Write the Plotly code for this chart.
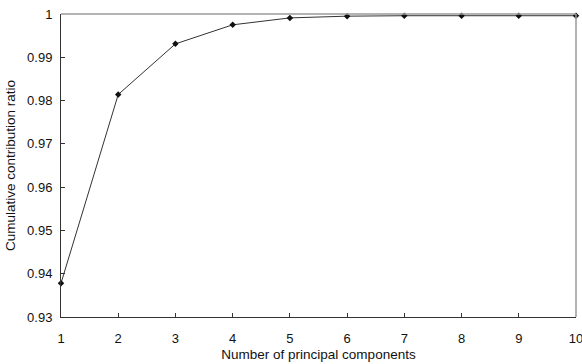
import plotly.graph_objects as go

# Number of principal components and cumulative contribution ratio
components = [1, 2, 3, 4, 5, 6, 7, 8, 9, 10]
cumulative_ratio = [0.9378, 0.9814, 0.9931, 0.9975, 0.9991, 0.9995, 0.9996, 0.9996, 0.9996, 0.9996]

y_tick_values = [0.93, 0.94, 0.95, 0.96, 0.97, 0.98, 0.99, 1.0]
y_tick_labels = ["0.93", "0.94", "0.95", "0.96", "0.97", "0.98", "0.99", "1"]
x_tick_values = components
x_tick_labels = [str(c) for c in components]

FONT = "Liberation Sans, Arial, sans-serif"

fig = go.Figure()
fig.add_trace(go.Scatter(
    x=components,
    y=cumulative_ratio,
    mode="lines+markers",
    line=dict(color="#333333", width=1),
    marker=dict(symbol="diamond", size=5, color="#111111"),
    cliponaxis=False,
    showlegend=False,
))

# Light top and right frame edges
fig.add_shape(type="line", xref="paper", yref="paper", x0=0, x1=1, y0=1, y1=1,
              line=dict(color="#9a9a9a", width=1.5))
fig.add_shape(type="line", xref="paper", yref="paper", x0=1, x1=1, y0=0, y1=1,
              line=dict(color="#9a9a9a", width=1.5))

fig.update_layout(
    width=582, height=364,
    margin=dict(l=61, r=6, t=14, b=47),
    paper_bgcolor="white",
    plot_bgcolor="white",
    font=dict(family=FONT, size=13, color="#111111"),
    xaxis=dict(
        range=[1, 10],
        tickvals=x_tick_values,
        ticktext=x_tick_labels,
        automargin=False,
        showgrid=False,
        zeroline=False,
        showline=True,
        linecolor="#333333",
        linewidth=1,
        ticks="inside",
        ticklen=4,
        tickcolor="#333333",
        tickfont=dict(size=13),
        ticklabelstandoff=9,
        ticklabeloverflow="allow",
        title=dict(text="Number of principal components", font=dict(size=13.5), standoff=4),
    ),
    yaxis=dict(
        range=[0.93, 1.0],
        tickvals=y_tick_values,
        ticktext=y_tick_labels,
        automargin=False,
        showgrid=False,
        zeroline=False,
        showline=True,
        linecolor="#333333",
        linewidth=1,
        ticks="inside",
        ticklen=4,
        tickcolor="#333333",
        tickfont=dict(size=13),
        ticklabelstandoff=5,
        title=dict(text="Cumulative contribution ratio", font=dict(size=13.5), standoff=8),
    ),
)

fig.write_html("out.html")
